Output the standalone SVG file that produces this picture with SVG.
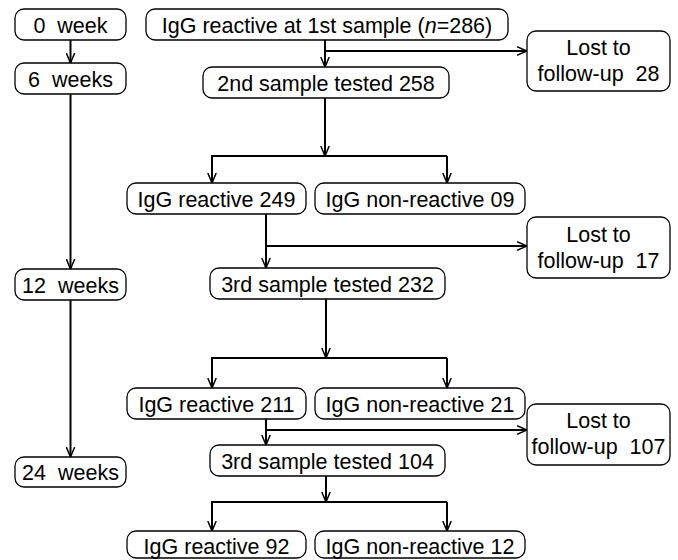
<svg xmlns="http://www.w3.org/2000/svg" width="678" height="560" viewBox="0 0 678 560" xml:space="preserve">
<style>
.box{fill:#fff;stroke:#000;stroke-width:1.3}
.t{font-family:"Liberation Sans",Arial,sans-serif;font-size:21.5px;fill:#000;text-anchor:middle;white-space:pre}
.c{fill:none;stroke:#000;stroke-width:2}
</style>
<defs>
<marker id="ah" viewBox="0 0 10 10" refX="10" refY="5" markerWidth="10" markerHeight="10" markerUnits="userSpaceOnUse" orient="auto">
<path d="M0,0.8 L10,5 L0,9.2" fill="none" stroke="#000" stroke-width="1.5"/>
</marker>
</defs>
<rect width="678" height="560" fill="#fff"/>
<g id="connectors" class="c">
<path d="M70.5,40 V63" marker-end="url(#ah)"/>
<path d="M70.5,94 V269" marker-end="url(#ah)"/>
<path d="M70.5,300 V457" marker-end="url(#ah)"/>
<path d="M325,40 V67" marker-end="url(#ah)"/>
<path d="M325,51 H527" marker-end="url(#ah)"/>
<path d="M325,98 V156" marker-end="url(#ah)"/>
<path d="M447,156 H212 V183" marker-end="url(#ah)"/>
<path d="M447,156 V183" marker-end="url(#ah)"/>
<path d="M266,214 V268" marker-end="url(#ah)"/>
<path d="M266,246 H527" marker-end="url(#ah)"/>
<path d="M326,299 V358" marker-end="url(#ah)"/>
<path d="M447,358 H212 V388" marker-end="url(#ah)"/>
<path d="M447,358 V388" marker-end="url(#ah)"/>
<path d="M266,419 V445" marker-end="url(#ah)"/>
<path d="M266,430 H527" marker-end="url(#ah)"/>
<path d="M326,476 V502" marker-end="url(#ah)"/>
<path d="M447,502 H212 V531" marker-end="url(#ah)"/>
<path d="M447,502 V531" marker-end="url(#ah)"/>
</g>
<g id="w0"><rect class="box" x="15" y="9" width="111" height="31" rx="9"/><text class="t" x="70.5" y="32.5">0  week</text></g>
<g id="w6"><rect class="box" x="15" y="63" width="111" height="31" rx="9"/><text class="t" x="70.5" y="86.5">6  weeks</text></g>
<g id="w12"><rect class="box" x="15" y="269" width="111" height="31" rx="9"/><text class="t" x="70.5" y="292.5">12  weeks</text></g>
<g id="w24"><rect class="box" x="15" y="457" width="111" height="30" rx="9"/><text class="t" x="70.5" y="480">24  weeks</text></g>
<g id="n1"><rect class="box" x="146" y="9" width="362" height="31" rx="9"/><text class="t" x="327" y="32.5">IgG reactive at 1st sample (<tspan font-style="italic">n</tspan>=286)</text></g>
<g id="n2"><rect class="box" x="203" y="67" width="246" height="31" rx="9"/><text class="t" x="326" y="90.5">2nd sample tested 258</text></g>
<g id="l1"><rect class="box" x="527" y="31" width="143" height="60" rx="9"/><text class="t" x="598.5" y="55">Lost to</text><text class="t" x="598.5" y="81">follow-up  28</text></g>
<g id="n3"><rect class="box" x="127" y="183" width="179" height="31" rx="9"/><text class="t" x="216.5" y="206.5">IgG reactive 249</text></g>
<g id="n4"><rect class="box" x="315" y="183" width="210" height="31" rx="9"/><text class="t" x="420" y="206.5">IgG non-reactive 09</text></g>
<g id="l2"><rect class="box" x="527" y="217" width="143" height="61" rx="9"/><text class="t" x="598.5" y="241.5">Lost to</text><text class="t" x="598.5" y="267.5">follow-up  17</text></g>
<g id="n5"><rect class="box" x="210" y="268" width="235" height="31" rx="9"/><text class="t" x="327.5" y="291.5">3rd sample tested 232</text></g>
<g id="n6"><rect class="box" x="127" y="388" width="179" height="31" rx="9"/><text class="t" x="216.5" y="411.5">IgG reactive 211</text></g>
<g id="n7"><rect class="box" x="315" y="388" width="210" height="31" rx="9"/><text class="t" x="420" y="411.5">IgG non-reactive 21</text></g>
<g id="l3"><rect class="box" x="527" y="404" width="143" height="61" rx="9"/><text class="t" x="598.5" y="428">Lost to</text><text class="t" x="598.5" y="454">follow-up  107</text></g>
<g id="n8"><rect class="box" x="210" y="445" width="235" height="31" rx="9"/><text class="t" x="327.5" y="468.5">3rd sample tested 104</text></g>
<g id="n9"><rect class="box" x="127" y="531" width="179" height="27" rx="9"/><text class="t" x="216.5" y="554">IgG reactive 92</text></g>
<g id="n10"><rect class="box" x="315" y="531" width="210" height="27" rx="9"/><text class="t" x="420" y="554">IgG non-reactive 12</text></g>
</svg>
